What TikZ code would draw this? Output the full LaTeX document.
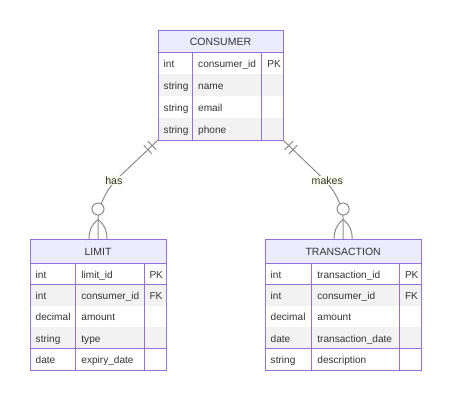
\documentclass[tikz,border=0pt]{standalone}
\usepackage{fontspec}
\setmainfont{Liberation Sans}
\usetikzlibrary{calc}
\definecolor{erborder}{HTML}{9370DB}
\definecolor{erhead}{HTML}{ECECFF}
\definecolor{errow}{HTML}{F2F2F2}
\definecolor{ertext}{HTML}{333333}
\definecolor{erline}{HTML}{8C8C8C}
\definecolor{erlabel}{HTML}{F8FDEC}
\tikzset{
  gridline/.style={draw=erborder, line width=1pt},
  entframe/.style={draw=erborder, line width=1pt, inner sep=0pt, outer sep=0pt, fill=none},
  celltext/.style={anchor=base west, inner sep=0pt, text=ertext, font=\fontsize{10.1}{12}\selectfont},
  headtext/.style={anchor=base, inner sep=0pt, text=ertext, font=\fontsize{10.5}{12}\selectfont},
  relline/.style={draw=erline, line width=1pt},
  crowcircle/.style={circle, draw=erline, line width=1pt, fill=white, minimum size=12pt, inner sep=0pt},
  rellabel/.style={fill=erlabel, inner sep=1pt, text=ertext, font=\fontsize{10.6}{12}\selectfont},
}
% #1 name, #2 x0, #3 x1, #4 x2, #5 x3, #6 ytop, #7 yhead, #8 row height, #9 rows
\newcommand\erentitybox[9]{%
  \pgfmathsetmacro\erbot{#7+#9*#8}%
  \fill[erhead] (#2,#6) rectangle (#5,#7);
  \foreach \i in {1,...,#9}{%
    \pgfmathsetmacro\erya{#7+(\i-1)*#8}%
    \pgfmathsetmacro\eryb{#7+\i*#8}%
    \ifodd\i
      \fill[white] (#2,\erya) rectangle (#5,\eryb);
    \else
      \fill[errow] (#2,\erya) rectangle (#5,\eryb);
    \fi
    \draw[gridline] (#2,\eryb) -- (#5,\eryb);
  }
  \draw[gridline] (#2,#7) -- (#5,#7);
  \draw[gridline] (#3,#7) -- (#3,\erbot);
  \draw[gridline] (#4,#7) -- (#4,\erbot);
  \node[entframe, minimum width={(#5-#2)*1pt}, minimum height={(\erbot-#6)*1pt}] (#1) at ({(#2+#5)/2},{(#6+\erbot)/2}) {};
}
\begin{document}
\begin{tikzpicture}[x=1pt,y=-1pt]
\useasboundingbox (0,0) rectangle (450,400);
\fill[white] (0,0) rectangle (450,400);

% ---------- CONSUMER ----------
\erentitybox{consumer}{158}{192.3}{261.7}{283}{30}{52.3}{21.93}{4}
\node[headtext] (consumer-title) at (220.5,45.2) {CONSUMER};
\foreach \t/\n/\k [count=\i] in {int/consumer\_id/PK, string/name/, string/email/, string/phone/}{
  \pgfmathsetmacro\yy{52.3+(\i-0.5)*21.93+4.2}
  \node[celltext] (consumer-t\i) at (163.5,\yy) {\t};
  \node[celltext] (consumer-n\i) at (198,\yy) {\n};
  \node[celltext] (consumer-k\i) at (267.2,\yy) {\k};
}

% ---------- LIMIT ----------
\erentitybox{limit}{30}{75.7}{144}{166}{239}{263.4}{21.32}{5}
\node[headtext] (limit-title) at (98,255.3) {LIMIT};
\foreach \t/\n/\k [count=\i] in {int/limit\_id/PK, int/consumer\_id/FK, decimal/amount/, string/type/, date/expiry\_date/}{
  \pgfmathsetmacro\yy{263.4+(\i-0.5)*21.32+4.2}
  \node[celltext] (limit-t\i) at (35.5,\yy) {\t};
  \node[celltext] (limit-n\i) at (81.2,\yy) {\n};
  \node[celltext] (limit-k\i) at (149.3,\yy) {\k};
}

% ---------- TRANSACTION ----------
\erentitybox{transaction}{265}{311.7}{399.7}{421.3}{239}{263.4}{21.32}{5}
\node[headtext] (transaction-title) at (343.15,255.3) {TRANSACTION};
\foreach \t/\n/\k [count=\i] in {int/transaction\_id/PK, int/consumer\_id/FK, decimal/amount/, date/transaction\_date/, string/description/}{
  \pgfmathsetmacro\yy{263.4+(\i-0.5)*21.32+4.2}
  \node[celltext] (transaction-t\i) at (270.5,\yy) {\t};
  \node[celltext] (transaction-n\i) at (317.2,\yy) {\n};
  \node[celltext] (transaction-k\i) at (404.8,\yy) {\k};
}

% ---------- relation: has ----------
\coordinate (hasB) at (117,179);
\coordinate (hasC) at (98,221);
\draw[relline] (consumer.south west) -- (hasB) .. controls (107.6,188.4) and (98,205) .. (hasC) -- (limit.north);
\coordinate (hasbar1) at ($(consumer.south west)!8pt!(hasB)$);
\coordinate (hasbar2) at ($(consumer.south west)!14pt!(hasB)$);
\draw[relline] ($(hasbar1)!6pt!90:(hasB)$) -- ($(hasbar1)!6pt!-90:(hasB)$);
\draw[relline] ($(hasbar2)!6pt!90:(hasB)$) -- ($(hasbar2)!6pt!-90:(hasB)$);
\node[crowcircle] (hasO) at (98,209) {};
\coordinate (hasF) at (98,219.5);
\draw[relline] (hasF) .. controls (91,225) and (89,231) .. ($(limit.north)+(-9,0)$);
\draw[relline] (hasF) .. controls (105,225) and (107,231) .. ($(limit.north)+(9,0)$);
\node[rellabel] (hasL) at (113.8,180.5) {has};

% ---------- relation: makes ----------
\coordinate (makB) at (323.5,179);
\coordinate (makC) at (343.15,221);
\draw[relline] (consumer.south east) -- (makB) .. controls (333.3,188.4) and (343.15,205) .. (makC) -- (transaction.north);
\coordinate (makbar1) at ($(consumer.south east)!8pt!(makB)$);
\coordinate (makbar2) at ($(consumer.south east)!14pt!(makB)$);
\draw[relline] ($(makbar1)!6pt!90:(makB)$) -- ($(makbar1)!6pt!-90:(makB)$);
\draw[relline] ($(makbar2)!6pt!90:(makB)$) -- ($(makbar2)!6pt!-90:(makB)$);
\node[crowcircle] (makO) at (343.15,209) {};
\coordinate (makF) at (343.15,219.5);
\draw[relline] (makF) .. controls (336.15,225) and (334.15,231) .. ($(transaction.north)+(-9,0)$);
\draw[relline] (makF) .. controls (350.15,225) and (352.15,231) .. ($(transaction.north)+(9,0)$);
\node[rellabel] (makL) at (327.3,180.5) {makes};
\end{tikzpicture}
\end{document}
